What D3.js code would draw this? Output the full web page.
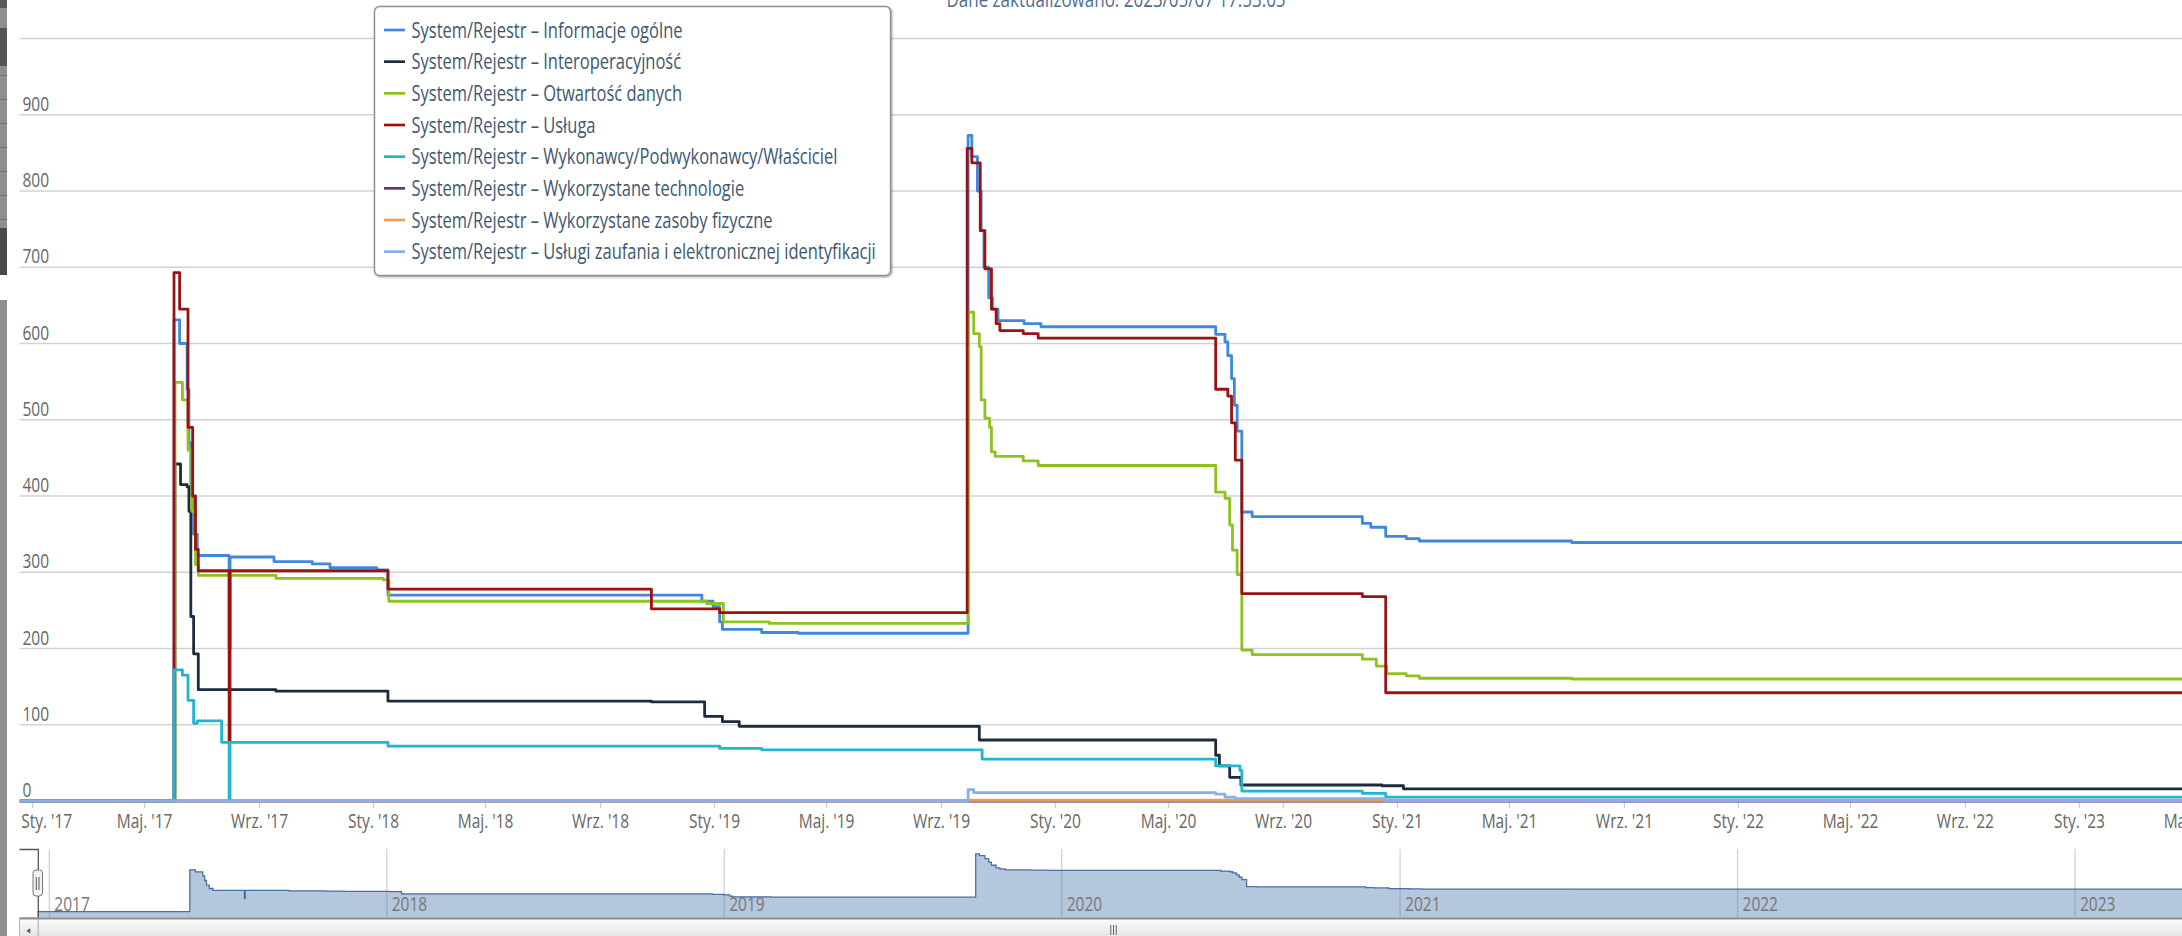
<!DOCTYPE html>
<html lang="pl">
  <head>
    <meta charset="UTF-8" />
    <title>System/Rejestr</title>
    <script src="https://d3js.org/d3.v7.min.js"></script>
    <style>
      body {
        margin: 0;
        background: #fff;
        overflow: hidden;
        font-family: "Open Sans", sans-serif;
      }
      svg {
        display: block;
      }
    </style>
  </head>
  <body>
    <svg id="chart" width="2182" height="936"></svg>

    <script>
      const title = "Dane zaktualizowano: 2023/05/07 17:53:05";

      const seriesNames = [
        "System/Rejestr – Informacje ogólne",
        "System/Rejestr – Interoperacyjność",
        "System/Rejestr – Otwartość danych",
        "System/Rejestr – Usługa",
        "System/Rejestr – Wykonawcy/Podwykonawcy/Właściciel",
        "System/Rejestr – Wykorzystane technologie",
        "System/Rejestr – Wykorzystane zasoby fizyczne",
        "System/Rejestr – Usługi zaufania i elektronicznej identyfikacji",
      ];
      const seriesColors = ["#3f88dc", "#1d2b3c", "#8dc21f", "#9a1212", "#22b5d0", "#573b86", "#f39a55", "#8aaee6"];

      // [data, wartość] - wartość obowiązuje do następnej daty
      const informacjeOgolne = [
        ["2016-12-19", 0], ["2017-06-02", 631], ["2017-06-08", 600], ["2017-06-16", 540], ["2017-06-18", 470],
        ["2017-06-20", 400], ["2017-06-23", 350], ["2017-06-27", 322], ["2017-07-31", 200], ["2017-08-01", 320],
        ["2017-09-17", 314], ["2017-10-28", 311], ["2017-11-16", 306], ["2018-01-05", 303], ["2018-01-17", 270],
        ["2018-12-19", 262], ["2018-12-31", 255], ["2019-01-07", 235], ["2019-01-10", 225], ["2019-02-21", 221],
        ["2019-04-01", 220], ["2019-09-30", 873], ["2019-10-04", 845], ["2019-10-10", 800], ["2019-10-14", 748],
        ["2019-10-17", 700], ["2019-10-22", 660], ["2019-10-26", 645], ["2019-11-01", 630], ["2019-11-29", 626],
        ["2019-12-17", 622], ["2020-06-21", 612], ["2020-07-01", 602], ["2020-07-04", 584], ["2020-07-08", 554],
        ["2020-07-11", 519], ["2020-07-14", 485], ["2020-07-19", 379], ["2020-07-30", 373], ["2020-11-25", 364],
        ["2020-12-04", 359], ["2020-12-20", 347], ["2021-01-11", 344], ["2021-01-25", 341], ["2021-07-07", 339],
        ["2023-05-07", 339],
      ];
      const interoperacyjnosc = [
        ["2016-12-19", 0], ["2017-06-03", 442], ["2017-06-09", 415], ["2017-06-16", 412], ["2017-06-18", 380],
        ["2017-06-20", 242], ["2017-06-23", 193], ["2017-06-28", 146], ["2017-09-19", 144], ["2018-01-17", 131],
        ["2018-10-26", 130], ["2018-12-22", 111], ["2019-01-10", 104], ["2019-01-28", 98], ["2019-10-12", 80],
        ["2020-06-21", 60], ["2020-06-25", 46], ["2020-07-06", 31], ["2020-07-18", 21], ["2020-12-16", 20],
        ["2021-01-08", 16], ["2023-05-07", 16],
      ];
      const otwartoscDanych = [
        ["2016-12-19", 0], ["2017-06-03", 549], ["2017-06-11", 526], ["2017-06-17", 460], ["2017-06-21", 380],
        ["2017-06-25", 310], ["2017-06-28", 296], ["2017-09-19", 292], ["2018-01-12", 290], ["2018-01-18", 262],
        ["2018-12-24", 259], ["2019-01-11", 235], ["2019-03-01", 233], ["2019-09-30", 641], ["2019-10-06", 613],
        ["2019-10-12", 596], ["2019-10-14", 526], ["2019-10-18", 502], ["2019-10-23", 490], ["2019-10-25", 458],
        ["2019-10-29", 452], ["2019-11-28", 446], ["2019-12-14", 440], ["2020-06-21", 405], ["2020-07-01", 397],
        ["2020-07-06", 362], ["2020-07-09", 329], ["2020-07-14", 297], ["2020-07-19", 198], ["2020-07-30", 192],
        ["2020-11-25", 186], ["2020-12-10", 177], ["2020-12-21", 167], ["2021-01-11", 164], ["2021-01-25", 161],
        ["2021-07-07", 160], ["2023-05-07", 160],
      ];
      const usluga = [
        ["2016-12-19", 0], ["2017-06-02", 693], ["2017-06-08", 645], ["2017-06-17", 490], ["2017-06-22", 400],
        ["2017-06-25", 330], ["2017-06-28", 302], ["2017-07-31", 78], ["2017-08-01", 302], ["2018-01-17", 278],
        ["2018-10-26", 252], ["2019-01-07", 247], ["2019-09-29", 856], ["2019-10-04", 837], ["2019-10-13", 748],
        ["2019-10-18", 698], ["2019-10-25", 645], ["2019-10-30", 626], ["2019-11-03", 617], ["2019-11-28", 613],
        ["2019-12-14", 607], ["2020-06-21", 540], ["2020-07-04", 531], ["2020-07-08", 496], ["2020-07-12", 447],
        ["2020-07-19", 272], ["2020-11-25", 268], ["2020-12-20", 142], ["2023-05-07", 142],
      ];
      const wykonawcy = [
        ["2016-12-19", 0], ["2017-06-02", 172], ["2017-06-11", 165], ["2017-06-17", 132], ["2017-06-23", 102],
        ["2017-06-27", 105], ["2017-07-23", 77], ["2017-07-31", 0], ["2017-08-01", 77], ["2018-01-17", 72],
        ["2019-01-07", 69], ["2019-02-21", 67], ["2019-10-15", 55], ["2020-06-21", 46], ["2020-07-17", 40],
        ["2020-07-19", 13], ["2020-11-25", 10], ["2020-12-20", 5], ["2023-05-07", 5],
      ];
      const technologie = [["2016-12-19", 0], ["2023-05-07", 0]];
      const zasobyFizyczne = [["2016-12-19", 0], ["2019-09-30", 1], ["2023-05-07", 1]];
      const uslugiZaufania = [
        ["2016-12-19", 0], ["2019-09-30", 15], ["2019-10-06", 11], ["2020-06-21", 9], ["2020-07-01", 5],
        ["2020-07-12", 3], ["2020-12-20", 1], ["2023-05-07", 1],
      ];

      const seriesData = [
        informacjeOgolne, interoperacyjnosc, otwartoscDanych, usluga,
        wykonawcy, technologie, zasobyFizyczne, uslugiZaufania,
      ];

      const monthAbbr = ["Sty.", "Lut.", "Mar.", "Kwi.", "Maj.", "Cze.", "Lip.", "Sie.", "Wrz.", "Paź.", "Lis.", "Gru."];
      const yTicks = [0, 100, 200, 300, 400, 500, 600, 700, 800, 900, 1000];
      const navYears = [2017, 2018, 2019, 2020, 2021, 2022, 2023];

      // the screenshot is stretched vertically, text too
      const K = 1.28;
      const W = 2182;
      const plotLeft = 19.5;
      const plotBottom = 801;

      const parse = d3.utcParse("%Y-%m-%d");
      const svg = d3.select("#chart");

      const x = d3
        .scaleUtc()
        .domain([parse("2017-01-01"), parse("2023-01-01")])
        .range([32, 2078.9]);
      const y = d3.scaleLinear().domain([0, 1000]).range([plotBottom, 38.5]);

      const navX = d3
        .scaleUtc()
        .domain([parse("2017-01-01"), parse("2023-01-01")])
        .range([49.3, 2075]);
      const navY = d3.scaleLinear().domain([0, 900]).range([911.7, 852]);

      function addText(sel, tx, ty, str, size, fill, anchor) {
        return sel
          .append("text")
          .attr("transform", `translate(${tx},${ty}) scale(1,${K})`)
          .attr("text-anchor", anchor || "start")
          .style("font-size", size + "px")
          .style("fill", fill)
          .text(str);
      }

      // left grey strip (browser edge)
      const strip = svg.append("g");
      strip.append("rect").attr("x", 0).attr("y", 0).attr("width", 7).attr("height", 936).attr("fill", "#8e8e8e");
      strip.append("rect").attr("x", 0).attr("y", 0).attr("width", 7).attr("height", 8).attr("fill", "#5a5a5a");
      strip.append("rect").attr("x", 0).attr("y", 28).attr("width", 7).attr("height", 38).attr("fill", "#555");
      strip.append("rect").attr("x", 0).attr("y", 228).attr("width", 7).attr("height", 47).attr("fill", "#4a4a4a");
      strip.append("rect").attr("x", 0).attr("y", 275).attr("width", 7).attr("height", 25).attr("fill", "#fff");
      strip
        .selectAll(".sep")
        .data(d3.range(75, 228, 24))
        .enter()
        .append("rect")
        .attr("x", 0)
        .attr("y", (d) => d)
        .attr("width", 7)
        .attr("height", 1)
        .attr("fill", "#6e6e6e");

      // title (cut at top)
      addText(svg, 1116, 7, title, 17, "#4d6d94", "middle");

      // y gridlines and labels
      const grid = svg.append("g");
      grid
        .selectAll("line")
        .data(yTicks)
        .enter()
        .append("line")
        .attr("x1", plotLeft)
        .attr("x2", W)
        .attr("y1", (d) => y(d))
        .attr("y2", (d) => y(d))
        .attr("stroke", "#d2d2d2")
        .attr("stroke-width", 1.5);
      yTicks
        .filter((d) => d < 1000)
        .forEach((d) => addText(grid, 22.5, y(d) - 4, String(d), 15.5, "#666"));

      // x axis
      const xTicks = d3.utcMonth.every(4).range(parse("2017-01-01"), parse("2023-06-01"));
      const fmt = (d) => monthAbbr[d.getUTCMonth()] + " '" + String(d.getUTCFullYear()).slice(2);
      const gx = svg
        .append("g")
        .attr("transform", `translate(0,${plotBottom})`)
        .call(d3.axisBottom(x).tickValues(xTicks).tickFormat(fmt).tickSize(7).tickSizeOuter(0));
      gx.select(".domain").remove();
      gx.selectAll(".tick line").attr("stroke", "#c0d0e0").attr("stroke-width", 1.3);
      gx.selectAll(".tick text")
        .attr("y", null)
        .attr("dy", null)
        .attr("transform", `translate(0,27.3) scale(1,${K})`)
        .style("font-family", '"Open Sans", sans-serif')
        .style("font-size", "15.5px")
        .style("fill", "#666");
      gx.selectAll(".tick").each(function (d) {
        const t = d3.select(this).select("text");
        const w = t.node().getComputedTextLength();
        if (x(d) - w / 2 < plotLeft + 1) {
          t.attr("text-anchor", "start").attr("transform", `translate(${plotLeft + 1.2 - x(d)},27.3) scale(1,${K})`);
        }
      });
      svg
        .append("line")
        .attr("x1", plotLeft)
        .attr("x2", W)
        .attr("y1", plotBottom + 0.5)
        .attr("y2", plotBottom + 0.5)
        .attr("stroke", "#c0d0e0")
        .attr("stroke-width", 1.5);

      // series
      svg
        .append("clipPath")
        .attr("id", "plotClip")
        .append("rect")
        .attr("x", plotLeft)
        .attr("y", 0)
        .attr("width", W - plotLeft)
        .attr("height", plotBottom + 4);

      const line = d3
        .line()
        .curve(d3.curveStepAfter)
        .x((d) => x(parse(d[0])))
        .y((d) => y(d[1]));

      const plot = svg.append("g").attr("clip-path", "url(#plotClip)");
      plot
        .selectAll(".series")
        .data(seriesData)
        .enter()
        .append("path")
        .attr("class", "series")
        .attr("d", line)
        .attr("fill", "none")
        .attr("stroke", (d, i) => seriesColors[i])
        .attr("stroke-width", 2.8)
        .attr("stroke-linejoin", "round");

      // legend
      const lg = svg.append("g");
      [0.05, 0.1, 0.15].forEach((op, i) => {
        lg.append("rect")
          .attr("x", 375.5)
          .attr("y", 7.5)
          .attr("width", 516)
          .attr("height", 269)
          .attr("rx", 5)
          .attr("fill", "none")
          .attr("stroke", "#000")
          .attr("stroke-opacity", op)
          .attr("stroke-width", 5 - 2 * i);
      });
      lg.append("rect")
        .attr("x", 374.5)
        .attr("y", 6.5)
        .attr("width", 516)
        .attr("height", 269)
        .attr("rx", 5)
        .attr("fill", "#fff")
        .attr("stroke", "#909090")
        .attr("stroke-width", 1.4);
      seriesNames.forEach((name, i) => {
        lg.append("line")
          .attr("x1", 384)
          .attr("x2", 405)
          .attr("y1", 30 + i * 31.67)
          .attr("y2", 30 + i * 31.67)
          .attr("stroke", seriesColors[i])
          .attr("stroke-width", 2.7);
        addText(lg, 411.5, 37.7 + i * 31.67, name, 16.5, "#3e576f");
      });

      // navigator
      const nav = svg.append("g");
      nav
        .selectAll(".yearLine")
        .data(navYears)
        .enter()
        .append("line")
        .attr("x1", (d) => navX(parse(d + "-01-01")))
        .attr("x2", (d) => navX(parse(d + "-01-01")))
        .attr("y1", 849)
        .attr("y2", 917)
        .attr("stroke", "#cfcfcf")
        .attr("stroke-width", 1.2);

      const navArea = d3
        .area()
        .curve(d3.curveStepAfter)
        .x((d) => navX(parse(d[0])))
        .y0(917)
        .y1((d) => navY(d[1]));
      const navLine = d3
        .line()
        .curve(d3.curveStepAfter)
        .x((d) => navX(parse(d[0])))
        .y((d) => navY(d[1]));
      nav.append("path").attr("d", navArea(informacjeOgolne)).attr("fill", "#4572a7").attr("fill-opacity", 0.4);
      nav
        .append("path")
        .attr("d", navLine(informacjeOgolne))
        .attr("fill", "none")
        .attr("stroke", "#4a6fa5")
        .attr("stroke-width", 1.3);
      navYears.forEach((yr) => addText(nav, navX(parse(yr + "-01-01")) + 5, 911, String(yr), 15.5, "#777"));

      nav
        .append("path")
        .attr("d", "M19.5,849.5H38.3V918")
        .attr("fill", "none")
        .attr("stroke", "#555")
        .attr("stroke-width", 1.3);
      nav
        .append("rect")
        .attr("x", 33)
        .attr("y", 870)
        .attr("width", 9.5)
        .attr("height", 26)
        .attr("rx", 3)
        .attr("fill", "#f2f2f2")
        .attr("stroke", "#777")
        .attr("stroke-width", 1);
      [36.3, 39].forEach((lx) =>
        nav
          .append("line")
          .attr("x1", lx)
          .attr("x2", lx)
          .attr("y1", 877)
          .attr("y2", 890)
          .attr("stroke", "#555")
          .attr("stroke-width", 1)
      );

      // scrollbar
      const defs = svg.append("defs");
      const grad = defs.append("linearGradient").attr("id", "sbGrad").attr("x1", 0).attr("x2", 0).attr("y1", 0).attr("y2", 1);
      grad.append("stop").attr("offset", "0").attr("stop-color", "#fbfbfb");
      grad.append("stop").attr("offset", "1").attr("stop-color", "#e2e2e2");
      const sb = svg.append("g");
      sb.append("rect").attr("x", plotLeft).attr("y", 918).attr("width", W - plotLeft).attr("height", 18).attr("fill", "#eeeeee");
      sb.append("rect")
        .attr("x", plotLeft)
        .attr("y", 919)
        .attr("width", 18.8)
        .attr("height", 20)
        .attr("fill", "url(#sbGrad)")
        .attr("stroke", "#b5b5b5");
      sb.append("path").attr("d", "M26.5,930.8L30.2,928.2L30.2,933.4Z").attr("fill", "#555");
      sb.append("rect")
        .attr("x", 38.3)
        .attr("y", 919)
        .attr("width", 2150)
        .attr("height", 20)
        .attr("fill", "url(#sbGrad)")
        .attr("stroke", "#b5b5b5");
      sb.append("line")
        .attr("x1", plotLeft)
        .attr("x2", W)
        .attr("y1", 918.3)
        .attr("y2", 918.3)
        .attr("stroke", "#8f8f8f")
        .attr("stroke-width", 2);
      [1110.8, 1113.5, 1116.2].forEach((gxp) =>
        sb
          .append("line")
          .attr("x1", gxp)
          .attr("x2", gxp)
          .attr("y1", 925)
          .attr("y2", 935)
          .attr("stroke", "#666")
          .attr("stroke-width", 1)
      );
    </script>
  </body>
</html>
